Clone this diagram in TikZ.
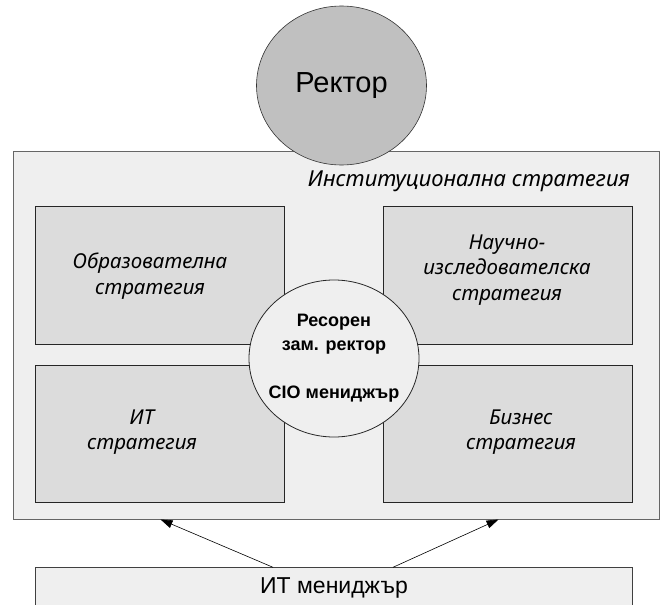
\documentclass[tikz,border=0pt]{standalone}
\usepackage{fontspec}
\setmainfont{Liberation Sans}[Script=Cyrillic,Language=Bulgarian]
\newfontfamily\cursivefont{Noto Sans}[Script=Cyrillic]
\usetikzlibrary{shapes.geometric, arrows.meta, positioning}
\definecolor{lightfill}{HTML}{EFEFEF}
\definecolor{stratfill}{HTML}{DCDCDC}
\definecolor{rectfill}{HTML}{C0C0C0}
\definecolor{edgegray}{HTML}{666666}

\begin{document}
\begin{tikzpicture}[x=1pt, y=-1pt]
            \tikzstyle{every node}+=[inner sep=0pt]
            \tikzstyle{instbox}=[draw=edgegray, fill=lightfill, line width=0.9pt]
            \tikzstyle{stratbox}=[draw=black!85, fill=stratfill, line width=0.8pt, minimum width=248.8pt, minimum height=137.6pt]
            \tikzstyle{strattext}=[align=center, font=\cursivefont\fontsize{20.5}{25.5}\selectfont\itshape]
            \useasboundingbox (0,0) rectangle (662,605);
            \node [instbox, minimum width=645.3pt, minimum height=367.3pt] (inst) at (336.35,335.35) {};
            \node [ellipse, draw=black!80, fill=rectfill, line width=0.6pt, minimum width=170pt, minimum height=159pt] (rector) at (341.5,85.5) {};
            \node [font=\fontsize{29}{34}\selectfont] (rectortext) at (rector.center) {Ректор};
            \node [anchor=east, font=\cursivefont\fontsize{22}{26}\selectfont\itshape] (insttext) at (630,181) {Институционална стратегия};
            \node [stratbox] (edu) at (160.1,275.5) {};
            \node [stratbox] (sci) at (508.1,275.5) {};
            \node [stratbox] (it) at (160.1,433.85) {};
            \node [stratbox] (bus) at (508.1,433.85) {};
            \node [strattext] (edutext) at (150,276) {Образователна\\стратегия};
            \node [strattext] (scitext) at (507,270) {Научно-\\изследователска\\стратегия};
            \node [strattext] (ittext) at (142,432) {ИТ\\стратегия};
            \node [strattext] (bustext) at (521,432) {Бизнес\\стратегия};
            \node [ellipse, draw=black!85, fill=lightfill, line width=0.8pt, minimum width=170pt, minimum height=157pt] (cio) at (334,358.5) {};
            \node [align=center, font=\fontsize{18}{24}\selectfont\bfseries] (ciotext) at (cio.center) {Ресорен\\зам. ректор\\[24pt]CIO мениджър};
            \node [draw=black!75, fill=lightfill, line width=0.8pt, minimum width=596.6pt, minimum height=40.6pt] (itmgr) at (334,588) {};
            \node [font=\fontsize{23}{26}\selectfont] (itmgrtext) at (itmgr.center) {ИТ мениджър};
            \draw [-{Triangle[length=12pt, width=8pt]}, line width=0.6pt] ([xshift=-61pt]itmgr.north) -- ([xshift=-175.85pt]inst.south);
            \draw [-{Triangle[length=12pt, width=8pt]}, line width=0.6pt] ([xshift=59pt]itmgr.north) -- ([xshift=162.15pt]inst.south);
\end{tikzpicture}
\end{document}
